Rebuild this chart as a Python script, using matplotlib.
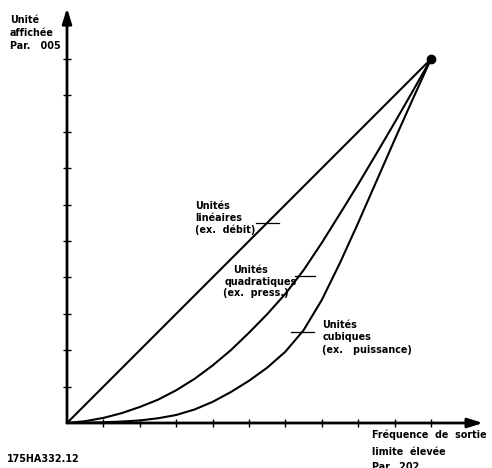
import matplotlib
matplotlib.use("Agg")
import matplotlib.pyplot as plt
from matplotlib.patches import ArrowStyle

# Relative output frequency (fraction of high limit)
freq = [0.0, 0.05, 0.1, 0.15, 0.2, 0.25, 0.3, 0.35, 0.4, 0.45, 0.5,
        0.55, 0.6, 0.65, 0.7, 0.75, 0.8, 0.85, 0.9, 0.95, 1.0]
# Displayed unit for each load type (fraction of Par. 005)
linear = [0.0, 0.05, 0.1, 0.15, 0.2, 0.25, 0.3, 0.35, 0.4, 0.45, 0.5,
          0.55, 0.6, 0.65, 0.7, 0.75, 0.8, 0.85, 0.9, 0.95, 1.0]
quadratic = [0.0, 0.005, 0.014, 0.027, 0.044, 0.064, 0.09, 0.121, 0.158,
             0.2, 0.248, 0.299, 0.355, 0.42, 0.495, 0.575, 0.656, 0.74,
             0.825, 0.912, 1.0]
cubic = [0.0, 0.0005, 0.002, 0.004, 0.007, 0.013, 0.022, 0.037, 0.058,
         0.085, 0.116, 0.152, 0.196, 0.255, 0.338, 0.44, 0.55, 0.664,
         0.778, 0.89, 1.0]

x_ticks = [0.1, 0.2, 0.3, 0.4, 0.5, 0.6, 0.7, 0.8, 0.9, 1.0]
y_ticks = [0.1, 0.2, 0.3, 0.4, 0.5, 0.6, 0.7, 0.8, 0.9, 1.0]

W, H, DPI = 492, 468, 100
fig = plt.figure(figsize=(W / DPI, H / DPI), dpi=DPI)
ax = fig.add_axes([0, 0, 1, 1])
ax.set_axis_off()

# data unit = 364 px, origin at (67, 423) px from top-left
S = 364.0
ax.set_xlim(-67 / S, (W - 67) / S)
ax.set_ylim(-(H - 423) / S, 423 / S)

FONT = dict(family="DejaVu Sans", weight="bold", size=6.9, color="black")

# axes with arrow heads
arrow = ArrowStyle("-|>", head_length=0.9, head_width=0.28)
for tip in [(0, 1.140), (1.143, 0)]:
    ax.annotate("", xy=tip, xytext=(0, 0),
                arrowprops=dict(arrowstyle=arrow, mutation_scale=10, lw=2.0,
                                color="black", shrinkA=0, shrinkB=0))

ax.plot(x_ticks, [0] * len(x_ticks), ls="none", marker="|", ms=5.5,
        mew=1.0, color="black")
ax.plot([0] * len(y_ticks), y_ticks, ls="none", marker="_", ms=6,
        mew=1.0, color="black")

for series in (linear, quadratic, cubic):
    ax.plot(freq, series, color="black", lw=1.5, solid_joinstyle="round",
            solid_capstyle="round")

ax.plot([freq[-1]], [linear[-1]], "o", color="black", ms=6)

# leader ticks pointing at each curve
ax.plot([0.519, 0.583], [0.550, 0.550], color="black", lw=0.9)
ax.plot([0.626, 0.681], [0.405, 0.405], color="black", lw=0.9)
ax.plot([0.615, 0.679], [0.251, 0.251], color="black", lw=0.9)


def block(x, ys, lines):
    for y, t in zip(ys, lines):
        ax.text(x, y, t, ha="left", va="baseline", **FONT)


block(-0.157, [1.099, 1.063, 1.027], ["Unité", "affichée", "Par.   005"])
block(0.352, [0.587, 0.555, 0.522], ["Unités", "linéaires", "(ex.  débit)"])
ax.text(0.456, 0.411, "Unités", ha="left", va="baseline", **FONT)
ax.text(0.434, 0.380, "quadratiques", ha="left", va="baseline", **FONT)
ax.text(0.429, 0.350, "(ex.  press.)", ha="left", va="baseline", **FONT)
block(0.701, [0.260, 0.228, 0.192], ["Unités", "cubiques", "(ex.   puissance)"])
block(0.838, [-0.042, -0.087, -0.128],
      ["Fréquence  de  sortie", "limite  élevée", "Par.  202"])
ax.text(-0.164, -0.106, "175HA332.12", ha="left", va="baseline", **FONT)

fig.savefig("out.png", dpi=DPI)
